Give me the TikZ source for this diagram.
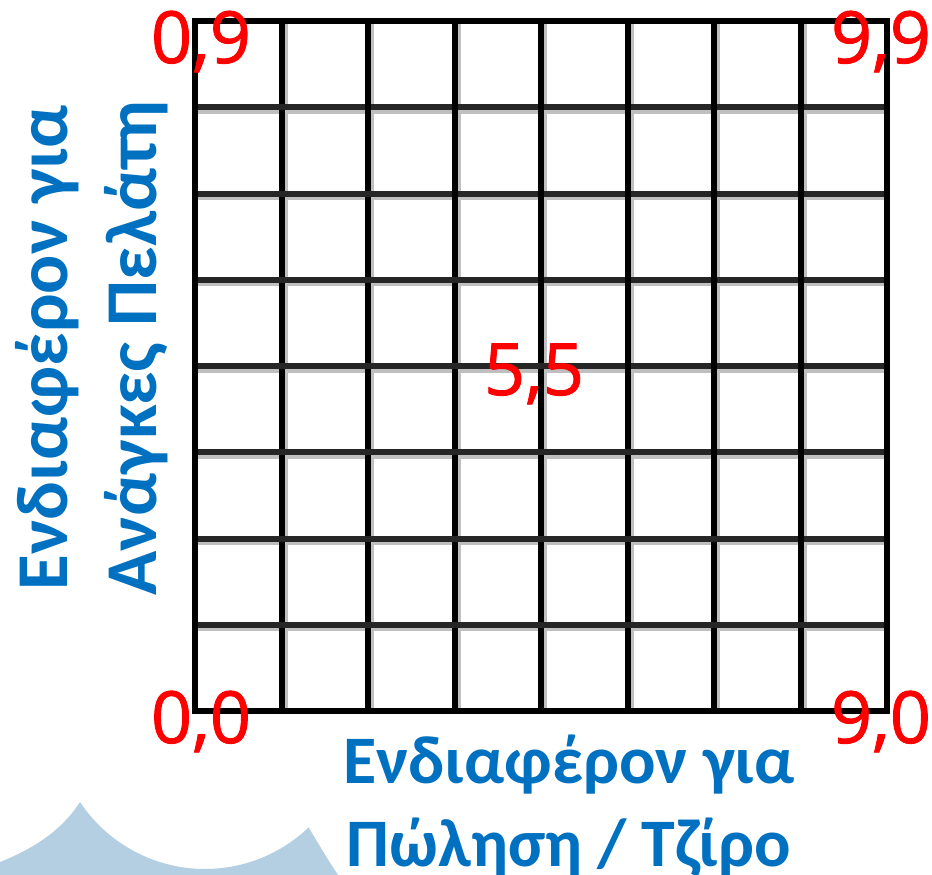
\documentclass[tikz,border=0pt]{standalone}
\usepackage{fontspec}
\setmainfont{Carlito}
\newfontfamily\digitfont[FakeBold=1.2]{Open Sans}
\definecolor{axisblue}{HTML}{0070C0}
\definecolor{wave}{HTML}{B4CFE2}
\definecolor{lblred}{HTML}{FF0000}
\tikzset{
  corner/.style={text=lblred, font=\digitfont\fontsize{72}{72}\selectfont, inner sep=0pt, anchor=base},
  axislabel/.style={text=axisblue, font=\fontsize{68}{83}\bfseries\selectfont, align=center, inner sep=0pt},
  gridline/.style={line width=6pt, black},
  gridshadow/.style={line width=5pt, black!25},
}
\begin{document}
\begin{tikzpicture}[x=1pt,y=-1pt]
\useasboundingbox[fill=white] (0,0) rectangle (932,875);
% background wave
\fill[wave] (0,875) -- (0,862) .. controls (35,848) and (62,830) .. (80,802)
  arc[start angle=146.4, end angle=46.3, radius=150]
  .. controls (318,843) and (328,860) .. (338,875) -- cycle;
% grid shadows
\foreach \i in {1,...,7}{
  \draw[gridshadow] ({195+86.5*\i+3.5},21) -- ({195+86.5*\i+3.5},711);
  \draw[gridshadow] (195,{21+86.25*\i+4}) -- (887,{21+86.25*\i+4});
}
% grid lines
\foreach \i in {1,...,7}{
  \draw[gridline] ({195+86.5*\i},21) -- ({195+86.5*\i},711);
  \draw[gridline, black!85] (195,{21+86.25*\i}) -- (887,{21+86.25*\i});
}
\draw[gridline, line join=miter] (195,21) rectangle (887,711);
% corner labels
\node[corner] (tl) at (201,63) {0,9};
\node[corner] (tr) at (881,63) {9,9};
\node[corner] (bl) at (201,743) {0,0};
\node[corner] (br) at (881,743) {9,0};
\node[corner] (mid) at (534,395) {5,5};
% axis labels
\node[axislabel] (xlab) at (569,806) {Ενδιαφέρον για\\Πώληση / Τζίρο};
\node[axislabel, rotate=90, font=\fontsize{73}{89}\bfseries\selectfont] (ylab) at (92,348) {Ενδιαφέρον για\\Ανάγκες Πελάτη};
\end{tikzpicture}
\end{document}
